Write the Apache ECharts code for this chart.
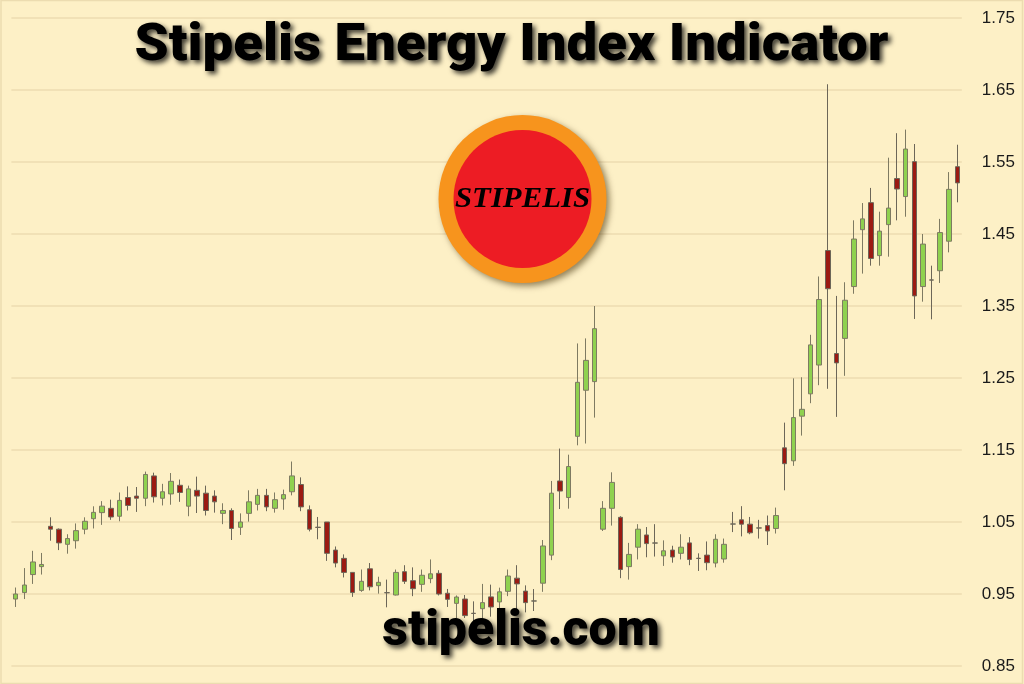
<!DOCTYPE html>
<html>
<head>
<meta charset="utf-8">
<script src="https://cdn.jsdelivr.net/npm/echarts@6/dist/echarts.min.js"></script>
<style>
html,body{margin:0;padding:0;background:#fdf0c6;}
#chart{width:1024px;height:684px;}
</style>
</head>
<body>
<div id="chart"></div>
<script>
var openVals = [0.943,0.952,0.977,0.988,1.044,1.040,1.019,1.024,1.040,1.0546,
1.063,1.069,1.058,1.084,1.086,1.083,1.114,1.083,1.089,1.101,
1.072,1.094,1.090,1.086,1.062,1.066,1.0426,1.062,1.0745,1.087,
1.069,1.082,1.092,1.102,1.067,1.0427,1.050,1.011,0.9995,0.980,
0.955,0.985,0.9616,0.9519,0.9486,0.981,0.9685,0.9634,0.9713,0.9787,
0.951,0.937,0.943,0.9232,0.9296,0.946,0.939,0.9537,0.972,0.954,
0.9404,0.965,1.004,1.107,1.084,1.169,1.233,1.245,1.040,1.069,
1.0565,0.988,1.015,1.032,1.0209,1.003,1.011,1.0065,1.021,0.9996,
1.004,0.993,0.9986,1.0473,1.053,1.047,1.0418,1.045,1.041,1.153,
1.135,1.197,1.228,1.268,1.427,1.284,1.305,1.377,1.456,1.4935,
1.420,1.463,1.527,1.502,1.5505,1.377,1.3862,1.399,1.440,1.5435];
var closeVals = [0.950,0.9625,0.9945,0.991,1.040,1.021,1.027,1.038,1.051,1.0634,
1.072,1.057,1.080,1.073,1.083,1.116,1.085,1.092,1.1065,1.091,
1.096,1.086,1.066,1.078,1.066,1.041,1.050,1.078,1.087,1.071,
1.081,1.088,1.114,1.071,1.040,1.0425,1.0065,0.993,0.980,0.952,
0.9676,0.960,0.9662,0.9517,0.980,0.9676,0.9574,0.976,0.978,0.950,
0.9426,0.9458,0.920,0.9230,0.938,0.932,0.953,0.975,0.964,0.938,
0.9402,1.0167,1.090,1.093,1.127,1.244,1.2745,1.3185,1.069,1.105,
0.984,1.005,1.040,1.020,1.0207,1.010,1.0014,1.015,0.998,0.9994,
0.9935,1.026,1.019,1.0471,1.047,1.035,1.0416,1.0375,1.059,1.131,
1.195,1.2065,1.296,1.359,1.374,1.271,1.358,1.443,1.471,1.416,
1.454,1.486,1.5125,1.568,1.364,1.436,1.3860,1.452,1.512,1.521];
var lowVals = [0.932,0.943,0.964,0.977,1.024,1.011,1.006,1.013,1.033,1.041,
1.046,1.053,1.051,1.066,1.064,1.072,1.077,1.073,1.074,1.078,
1.058,1.0625,1.059,1.063,1.047,1.025,1.032,1.0505,1.066,1.065,
1.063,1.067,1.087,1.065,1.037,1.026,0.996,0.987,0.973,0.946,
0.953,0.955,0.9505,0.9315,0.948,0.964,0.947,0.953,0.965,0.948,
0.932,0.913,0.9167,0.9125,0.912,0.9185,0.926,0.947,0.929,0.9245,
0.9264,0.953,0.997,1.068,1.0685,1.1565,1.159,1.195,1.0375,1.045,
0.972,0.970,0.998,1.001,1.002,0.989,0.9935,0.998,0.990,0.982,
0.983,0.987,0.9935,1.036,1.030,1.033,1.027,1.018,1.034,1.094,
1.128,1.170,1.215,1.240,1.235,1.196,1.253,1.367,1.395,1.406,
1.406,1.4185,1.469,1.474,1.332,1.356,1.3315,1.382,1.4245,1.494];
var highVals = [0.959,0.986,1.010,1.007,1.0565,1.041,1.033,1.048,1.0565,1.0718,
1.079,1.081,1.091,1.0995,1.0986,1.120,1.1185,1.103,1.118,1.109,
1.1005,1.113,1.1005,1.094,1.076,1.069,1.062,1.094,1.096,1.096,
1.091,1.095,1.134,1.112,1.073,1.057,1.050,1.016,1.005,0.980,
0.984,0.993,0.974,0.970,0.984,0.990,0.987,0.984,0.998,0.983,
0.957,0.948,0.9486,0.9398,0.964,0.963,0.9588,0.984,0.990,0.962,
0.9569,1.025,1.107,1.152,1.1435,1.298,1.305,1.350,1.079,1.119,
1.058,1.021,1.047,1.043,1.047,1.0245,1.017,1.033,1.029,1.0065,
1.023,1.033,1.027,1.064,1.072,1.057,1.053,1.059,1.070,1.188,
1.2495,1.251,1.310,1.391,1.658,1.364,1.383,1.469,1.493,1.514,
1.481,1.556,1.590,1.595,1.575,1.450,1.406,1.471,1.536,1.574];
var categories = openVals.map(function(_, i){ return String(i + 1); });
var yTicks = ['0.85','0.95','1.05','1.15','1.25','1.35','1.45','1.55','1.65','1.75'];
var titleText = 'Stipelis Energy Index Indicator';
var siteText = 'stipelis.com';
var logoText = 'STIPELIS';

var ohlc = openVals.map(function(o, i){ return [o, closeVals[i], lowVals[i], highVals[i]]; });

var shadowText = {textShadowColor: 'rgba(0,0,0,0.75)', textShadowBlur: 5, textShadowOffsetX: 3, textShadowOffsetY: 3};
function bigText(txt, x, y, size, sx) {
  var st = {text: txt, font: '900 ' + size + 'px Roboto', fill: '#000', align: 'center', verticalAlign: 'middle'};
  for (var k in shadowText) st[k] = shadowText[k];
  return {type: 'text', x: x, y: y, scaleX: sx, style: st, z: 20, silent: true};
}

var chart = echarts.init(document.getElementById('chart'), null, {renderer:'canvas'});
chart.setOption({
  backgroundColor: '#fdf0c6',
  animation: false,
  grid: {left: 11.4, right: 62.2, top: 18, bottom: 18},
  xAxis: {type: 'category', data: categories, boundaryGap: true,
    axisLine: {show: false}, axisTick: {show: false}, axisLabel: {show: false}, splitLine: {show: false}},
  yAxis: {type: 'value', position: 'right', min: 0.85, max: 1.75, interval: 0.1,
    axisLine: {show: false}, axisTick: {show: false},
    splitLine: {lineStyle: {color: '#ecdcb0', width: 1.5}},
    axisLabel: {margin: 20, color: '#1a1a1a', fontFamily: 'Liberation Sans', fontSize: 17,
      formatter: function(v){ var s = v.toFixed(2); return yTicks.indexOf(s) >= 0 ? s : ''; }}},
  graphic: [
    {type: 'rect', shape: {x: 1, y: 0.5, width: 1021.5, height: 683}, style: {fill: null, stroke: '#ecdcb0', lineWidth: 1.5}, silent: true},
    {type: 'circle', shape: {cx: 522.5, cy: 199, r: 84}, style: {fill: '#f7941d', shadowBlur: 6, shadowColor: 'rgba(60,40,0,0.55)', shadowOffsetX: 3, shadowOffsetY: 3}, z: 10},
    {type: 'circle', shape: {cx: 522.5, cy: 199, r: 69}, style: {fill: '#ed1c24'}, z: 11},
    {type: 'text', x: 522.5, y: 200, scaleX: 1.06, style: {text: logoText, font: 'italic bold 29px "Liberation Serif"', fill: '#000', align: 'center', verticalAlign: 'middle'}, z: 12},
    bigText(titleText, 511.5, 47, 52, 1.05),
    bigText(siteText, 521, 632, 50, 1.0)
  ],
  series: [{
    type: 'candlestick', data: ohlc, barWidth: 5,
    itemStyle: {color: '#8fd14f', color0: '#9b1a12', borderColor: '#7e7a62', borderColor0: '#6c6658', borderWidth: 1}
  }]
});
</script>
</body>
</html>
